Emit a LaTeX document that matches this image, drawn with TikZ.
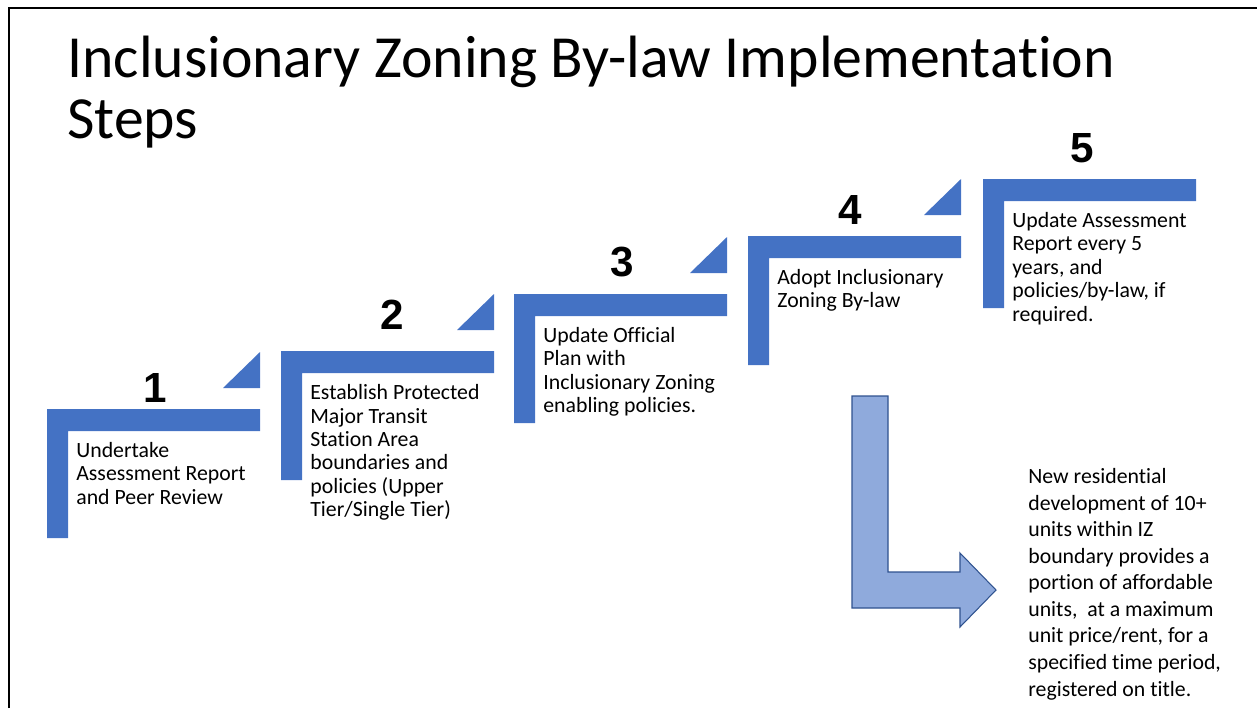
\documentclass[tikz,border=0pt]{standalone}
\usepackage{fontspec}
\setmainfont[Ligatures=CommonOff]{Carlito}
\newfontfamily\numfont{Liberation Sans}
\usetikzlibrary{positioning}
\definecolor{stepblue}{HTML}{4472C4}
\definecolor{arrowfill}{HTML}{8FAADC}
\definecolor{arrowline}{HTML}{2F528F}
\newcommand{\stepbracket}[2]{%
	\fill[stepblue] (#1,#2) -- ++(213,0) -- ++(0,22) -- ++(-192,0)
		-- ++(0,107) -- ++(-21,0) -- cycle;}
\newcommand{\steptri}[2]{%
	\fill[stepblue] (#1+176,#2-21) -- (#1+213,#2-57) -- (#1+213,#2-21) -- cycle;}

\begin{document}
\begin{tikzpicture}[x=0.02cm,y=-0.02cm,
	steptext/.style={anchor=base west, align=left, inner sep=0pt,
		font=\fontsize{12.4}{13.3}\selectfont},
	stepnum/.style={inner sep=0pt, font=\numfont\bfseries\fontsize{24}{28}\selectfont}]
	\useasboundingbox (0,0) rectangle (1257,708);
	\draw [line width=1.2pt] (9,708) -- (9,8) -- (1257,8);
	%
	\node (title) [anchor=base west, align=left, inner sep=0pt,
		font=\fontsize{34}{34.6}\selectfont] at (67,138)
		{Inclusionary Zoning By-law Implementation\\Steps};
	%
	\foreach \x/\y in {47/409, 281/351, 514/294, 748/236, 983/179}
		\stepbracket{\x}{\y};
	\foreach \x/\y in {47/409, 281/351, 514/294, 748/236}
		\steptri{\x}{\y};
	%
	\node (n1) [stepnum] at (155,388) {1};
	\node (n2) [stepnum] at (392,315) {2};
	\node (n3) [stepnum] at (622,262) {3};
	\node (n4) [stepnum] at (850,210) {4};
	\node (n5) [stepnum] at (1082,148) {5};
	%
	% base of a multi-line node is its last line
	\node (s1) [steptext] at (76,504) {Undertake\\Assessment Report\\and Peer Review};
	\node (s2) [steptext] at (310,516.5) {Establish Protected\\Major Transit\\Station Area\\boundaries and\\policies (Upper\\Tier/Single Tier)};
	\node (s3) [steptext] at (543,412.5) {Update Official\\Plan with\\Inclusionary Zoning\\enabling policies.};
	\node (s4) [steptext] at (777,307.5) {Adopt Inclusionary\\Zoning By-law};
	\node (s5) [steptext] at (1012,321) {Update Assessment\\Report every 5\\years, and\\policies/by-law, if\\required.};
	%
	\draw [fill=arrowfill, draw=arrowline, line width=0.6pt]
		(852,396) -- (888,396) -- (888,572) -- (960,572) -- (960,553)
		-- (996,590) -- (960,627) -- (960,608) -- (852,608) -- cycle;
	\node (result) [steptext, font=\fontsize{12.4}{15.1}\selectfont] at (1028,696)
		{New residential\\development of 10+\\units within IZ\\boundary provides a\\portion of affordable\\units,~ at a maximum\\unit price/rent, for a\\specified time period,\\registered on title.};
\end{tikzpicture}
\end{document}
